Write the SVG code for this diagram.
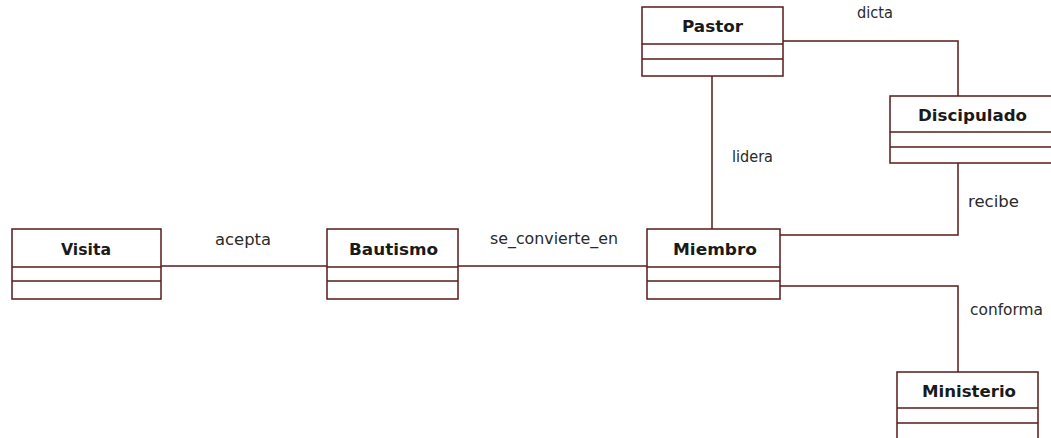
<svg xmlns="http://www.w3.org/2000/svg" width="1051" height="438" viewBox="0 0 1051 438">
  <style>
    .box { fill: #ffffff; stroke: #5a1a1a; stroke-width: 1.5; }
    .sep { stroke: #5a1a1a; stroke-width: 1.5; }
    .title { font-family: "DejaVu Sans", Verdana, sans-serif; font-weight: bold; font-size: 16px; fill: #1a1a1a; text-anchor: middle; }
    .edge { fill: none; stroke: #5a1a1a; stroke-width: 1.5; }
    .label { font-family: "DejaVu Sans", Verdana, sans-serif; font-size: 15px; fill: #2a2a2a; }
  </style>
  <rect width="1051" height="438" fill="#ffffff"/>

  <!-- associations -->
  <g id="connectors">
    <polyline class="edge" points="161,266 327,266"/>
    <polyline class="edge" points="458,266 647,266"/>
    <polyline class="edge" points="712,76 712,229"/>
    <polyline class="edge" points="783,41 958,41 958,96"/>
    <polyline class="edge" points="958,163 958,235 780,235"/>
    <polyline class="edge" points="780,286 958,286 958,372"/>
    <text class="label" x="215" y="245" textLength="56" lengthAdjust="spacingAndGlyphs">acepta</text>
    <text class="label" x="490" y="244" textLength="128" lengthAdjust="spacingAndGlyphs">se_convierte_en</text>
    <text class="label" x="732" y="162" textLength="41" lengthAdjust="spacingAndGlyphs">lidera</text>
    <text class="label" x="857" y="18" textLength="36" lengthAdjust="spacingAndGlyphs">dicta</text>
    <text class="label" x="968" y="207" textLength="51" lengthAdjust="spacingAndGlyphs">recibe</text>
    <text class="label" x="970" y="315" textLength="73" lengthAdjust="spacingAndGlyphs">conforma</text>
  </g>

  <!-- classes -->
  <g id="pastor">
    <rect class="box" x="642" y="7" width="141" height="69"/>
    <line class="sep" x1="642" y1="44" x2="783" y2="44"/>
    <line class="sep" x1="642" y1="59" x2="783" y2="59"/>
    <text class="title" x="712.5" y="32" textLength="61" lengthAdjust="spacingAndGlyphs">Pastor</text>
  </g>

  <g id="discipulado">
    <rect class="box" x="890" y="96" width="175" height="67"/>
    <line class="sep" x1="890" y1="132" x2="1065" y2="132"/>
    <line class="sep" x1="890" y1="147" x2="1065" y2="147"/>
    <text class="title" x="972.5" y="121" textLength="109" lengthAdjust="spacingAndGlyphs">Discipulado</text>
  </g>

  <g id="visita">
    <rect class="box" x="12" y="229" width="149" height="70"/>
    <line class="sep" x1="12" y1="267" x2="161" y2="267"/>
    <line class="sep" x1="12" y1="281" x2="161" y2="281"/>
    <text class="title" x="86" y="255" textLength="50" lengthAdjust="spacingAndGlyphs">Visita</text>
  </g>

  <g id="bautismo">
    <rect class="box" x="327" y="229" width="131" height="70"/>
    <line class="sep" x1="327" y1="267" x2="458" y2="267"/>
    <line class="sep" x1="327" y1="281" x2="458" y2="281"/>
    <text class="title" x="393.5" y="255" textLength="89" lengthAdjust="spacingAndGlyphs">Bautismo</text>
  </g>

  <g id="miembro">
    <rect class="box" x="647" y="229" width="133" height="70"/>
    <line class="sep" x1="647" y1="267" x2="780" y2="267"/>
    <line class="sep" x1="647" y1="281" x2="780" y2="281"/>
    <text class="title" x="715" y="255" textLength="84" lengthAdjust="spacingAndGlyphs">Miembro</text>
  </g>

  <g id="ministerio">
    <rect class="box" x="897" y="372" width="141" height="75"/>
    <line class="sep" x1="897" y1="408" x2="1038" y2="408"/>
    <line class="sep" x1="897" y1="423" x2="1038" y2="423"/>
    <text class="title" x="969" y="397" textLength="94" lengthAdjust="spacingAndGlyphs">Ministerio</text>
  </g>
</svg>
